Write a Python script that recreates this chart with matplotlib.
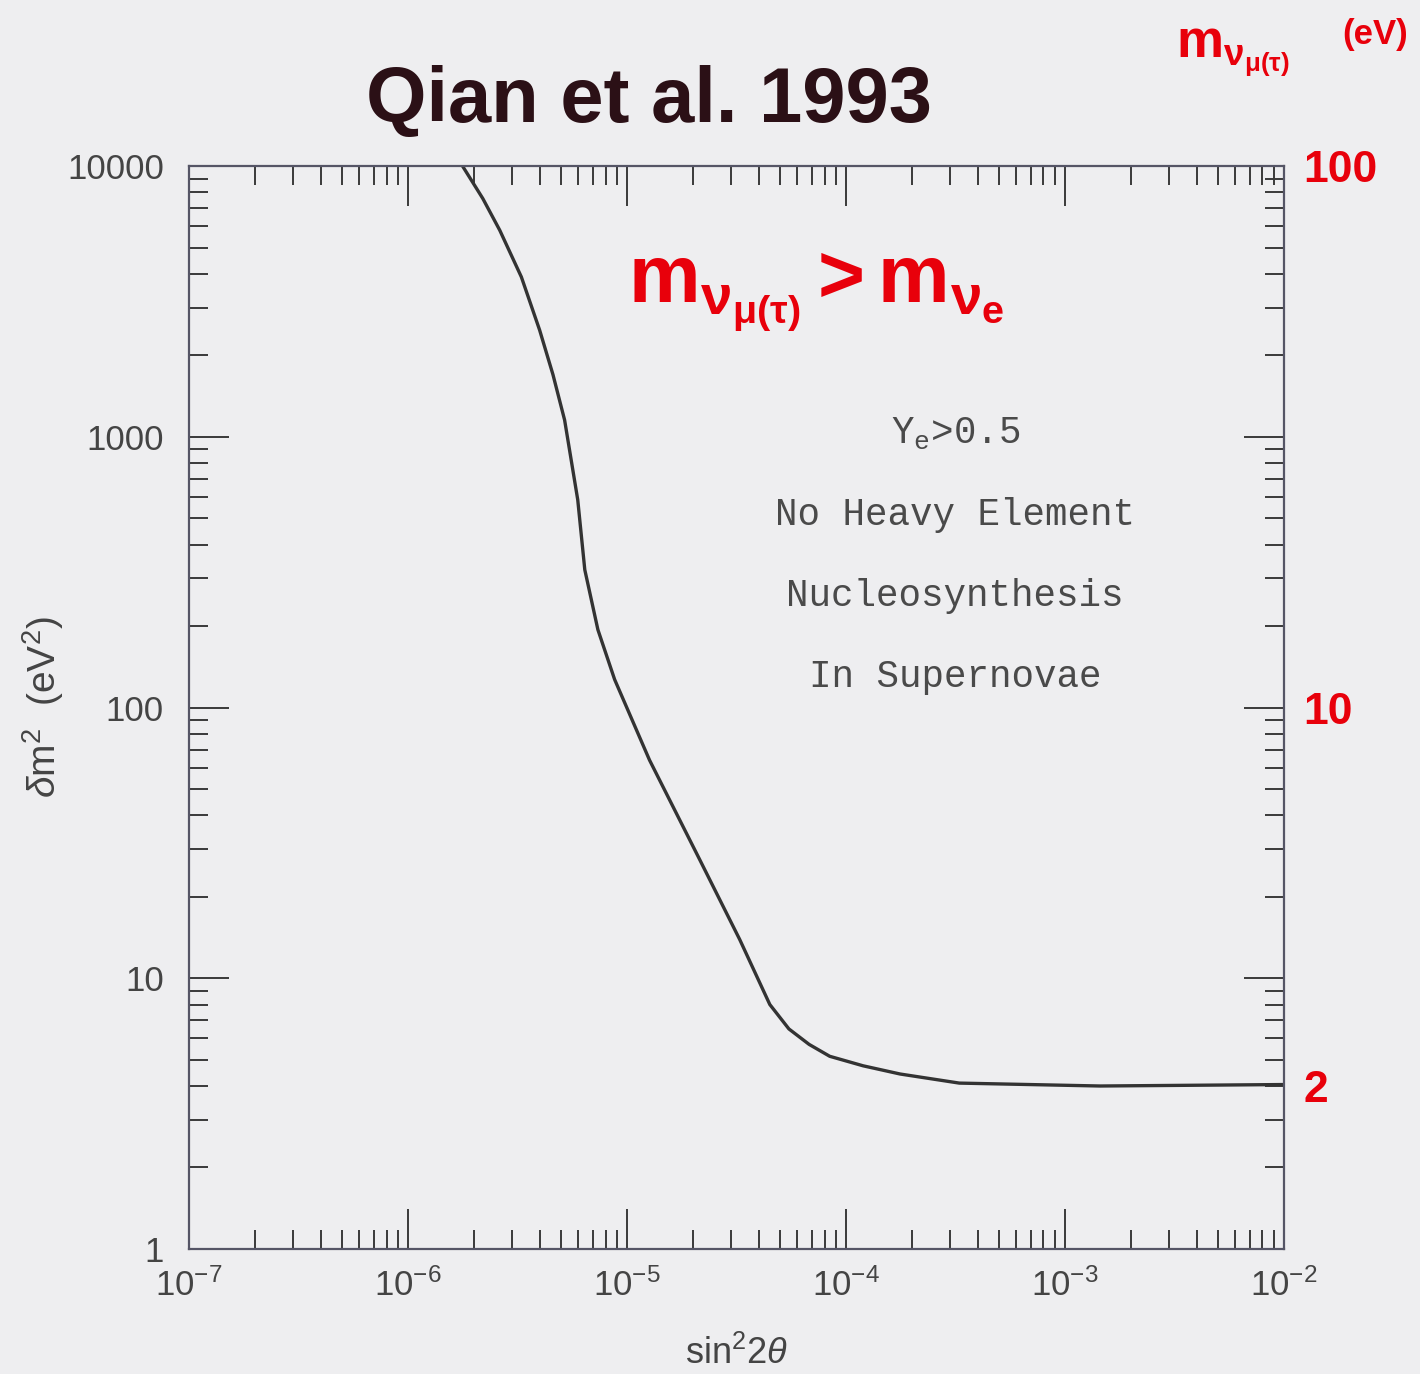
import numpy as np
import matplotlib
matplotlib.use("Agg")
import matplotlib.pyplot as plt
from matplotlib.ticker import FixedLocator, LogLocator, NullFormatter, FuncFormatter

# curve
sin2_2theta = [1.78e-6, 2.2e-6, 2.63e-6, 3.3e-6, 4.0e-6, 4.6e-6, 5.2e-6,
               5.97e-6, 6.43e-6, 7.38e-6, 8.8e-6, 1.27e-5, 2.15e-5, 3.28e-5,
               4.5e-5, 5.5e-5, 6.8e-5, 8.45e-5, 1.2e-4, 1.77e-4, 3.3e-4,
               1.45e-3, 1.0e-2]
dm2 = [10000, 7600, 5800, 3900, 2480, 1700, 1155,
       586, 323, 194, 127, 64, 27.5, 13.9,
       8.0, 6.5, 5.7, 5.15, 4.75, 4.43, 4.1,
       4.0, 4.05]

y_ticks = [1, 10, 100, 1000, 10000]
mass_ticks = [100, 10, 2]
notes = [r"Y$_\mathregular{e}$>0.5", "No Heavy Element",
         "Nucleosynthesis", "In Supernovae"]

BG = "#eeeef0"
INK = "#3a3a3a"
RED = "#e8000b"

plt.rcParams["font.family"] = ["Liberation Sans", "DejaVu Sans"]
plt.rcParams["mathtext.fontset"] = "custom"
plt.rcParams["mathtext.rm"] = "Liberation Sans"
plt.rcParams["mathtext.it"] = "Liberation Sans:italic"
plt.rcParams["mathtext.bf"] = "Liberation Sans:bold"

fig = plt.figure(figsize=(14.2, 13.74), dpi=100, facecolor=BG)
ax = fig.add_axes([0.133, 0.091, 0.771, 0.788])
ax.set_facecolor(BG)

ax.plot(sin2_2theta, dm2, color="#333333", lw=2.4)

ax.set_xscale("log")
ax.set_yscale("log")
ax.set_xlim(1e-7, 1e-2)
ax.set_ylim(1, 1e4)

ax.yaxis.set_major_locator(FixedLocator(y_ticks))
ax.yaxis.set_major_formatter(FuncFormatter(lambda v, p: f"{int(v)}"))
ax.xaxis.set_major_locator(LogLocator(base=10, numticks=10))
ax.xaxis.set_minor_locator(LogLocator(base=10, subs=np.arange(2, 10), numticks=10))
ax.yaxis.set_minor_locator(LogLocator(base=10, subs=np.arange(2, 10), numticks=10))
ax.yaxis.set_minor_formatter(NullFormatter())
ax.xaxis.set_minor_formatter(NullFormatter())

ax.tick_params(which="both", direction="in", top=True, right=True,
               colors=INK, width=1.4)
ax.tick_params(which="major", length=29, labelsize=25, labelcolor="#444444")
ax.tick_params(which="minor", length=14)
ax.tick_params(axis="y", which="major", pad=18)
ax.tick_params(axis="x", which="major", pad=14)
for s in ax.spines.values():
    s.set_color("#555566")
    s.set_linewidth(1.6)

ax.set_xlabel(r"sin$^2$2$\theta$", fontsize=26, color="#444444")
ax.xaxis.set_label_coords(0.5, -0.08)
ax.set_ylabel(r"$\delta$m$^2$  (eV$^2$)", fontsize=28, color="#444444")
ax.yaxis.set_label_coords(-0.112, 0.5)

# right-hand neutrino mass scale, m = sqrt(dm^2)
sec = ax.secondary_yaxis("right", functions=(np.sqrt, np.square))
sec.yaxis.set_major_locator(FixedLocator(mass_ticks))
sec.yaxis.set_minor_locator(FixedLocator([]))
sec.yaxis.set_major_formatter(FuncFormatter(lambda v, p: f"{int(v)}"))
sec.tick_params(length=0, pad=14, labelsize=32, labelcolor=RED)
for lab in sec.get_yticklabels():
    lab.set_fontweight("bold")
sec.spines["right"].set_visible(False)

# printed annotation in the plot
for i, t in enumerate(notes):
    ax.text(0.70, 0.753 - i * 0.075, t, transform=ax.transAxes,
            ha="center", va="center", fontsize=27, color="#4a4a4a",
            family=["Liberation Mono", "DejaVu Sans Mono"])

# handwritten notes
fig.text(0.457, 0.926, "Qian et al. 1993", ha="center", va="center",
         fontsize=56, fontweight="bold", color="#2b1016")
fig.text(0.575, 0.787, r"$\mathbf{m_{\nu_{\mu(\tau)}} > m_{\nu_e}}$",
         ha="center", va="center", fontsize=58, color=RED)
fig.text(0.828, 0.962, r"$\mathbf{m_{\nu_{\mu(\tau)}}}$", ha="left",
         va="center", fontsize=38, color=RED)
fig.text(0.945, 0.975, "(eV)", ha="left", va="center", fontsize=25,
         fontweight="bold", color=RED)

fig.savefig("out.png", dpi=100, facecolor=BG)
